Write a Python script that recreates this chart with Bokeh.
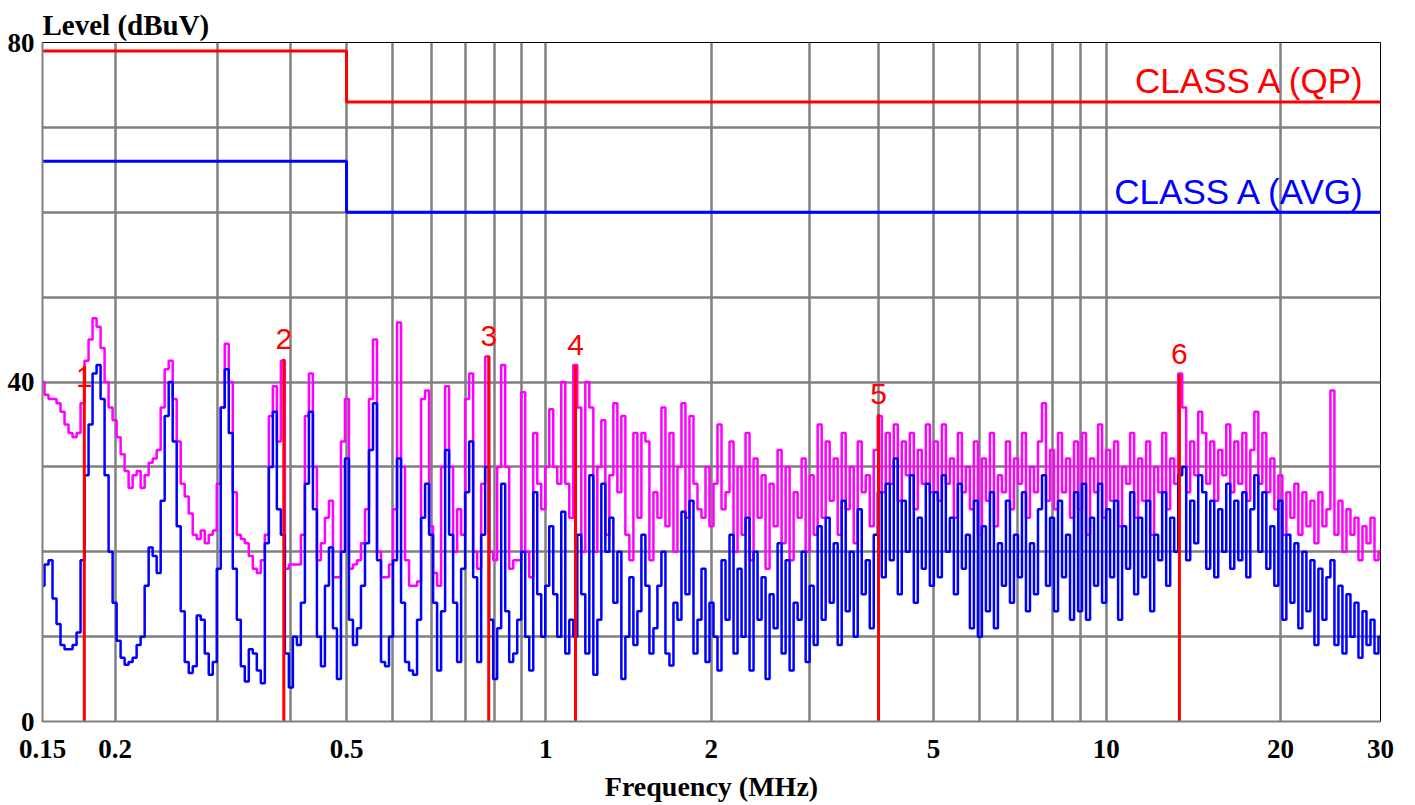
import numpy as np
from bokeh.plotting import figure
from bokeh.models import ColumnDataSource, FixedTicker, Range1d
from bokeh.core.properties import value
from bokeh.embed import file_html
from bokeh.resources import INLINE

# ---------------- data ----------------
F_START_MHZ, F_STOP_MHZ = 0.15, 30.0   # log sweep of the receiver

# peak / QP trace (magenta), dBuV, one value per sweep point
PEAK_1 = [40, 38.5, 38, 38, 37.5, 36.5, 35, 34, 33.5, 34,
          37.5, 42.5, 45, 47.5, 46.5, 44, 40, 37, 35.5, 33.5,
          31.5, 29.5, 27.5, 29, 29.5, 27.5, 29, 30.5, 31, 32,
          37, 41.5, 42.5, 38, 33, 28, 26.5, 24.5, 22, 21.5,
          22.5, 21, 22, 22.5, 28, 37, 44.5, 40, 27, 22,
          21.5, 21, 19.5, 18, 17.5, 19, 22, 36, 39.5, 33]
PEAK_2 = [42.5, 18, 18.5, 18.5, 18.5, 22, 36, 41, 30, 19,
          21, 24, 26, 17, 17, 33, 38, 18, 18.5, 19,
          21, 25, 38, 45, 20, 17, 17, 18.5, 25, 47,
          30, 19, 16, 16, 16.5, 38, 39, 23, 17.5, 16,
          30, 39.5, 30, 20, 25, 22, 38, 41, 20, 18,
          28, 43, 20, 19, 30, 42, 30, 18, 19, 19]
PEAK_3 = [38.8, 20, 17, 34, 28, 25, 30, 36.8, 30, 28,
          40, 28, 24, 42, 37, 20, 40, 37, 20, 30,
          35.5, 22, 29, 37.5, 27, 36, 22, 19, 34, 24,
          34, 33, 19, 27, 24, 37, 23, 34, 20, 30,
          37.5, 24, 36, 28, 25, 24, 30, 23, 28, 35,
          25, 27]
PEAK_4 = [33, 20, 30, 22, 34, 19, 31, 24, 29, 18, 28, 23, 32, 21, 30, 19, 27, 24, 31, 20, 29, 22, 35,
          24, 33, 26, 31, 22, 34, 25, 30, 21, 33, 27, 29, 23, 32, 36,
          27, 34, 28, 35, 26, 33, 29, 34, 25, 32, 28, 35, 27,
          33, 26, 35, 28, 31, 24, 34, 27, 30, 25, 33, 22, 31, 26, 34, 23, 29, 27, 33, 25,
          31, 28, 34, 24, 30, 27, 33, 37.5, 26, 32, 25, 34, 27, 31, 24]
PEAK_5 = [33, 25, 34, 22, 31, 27, 35, 24, 32, 26,
          33, 23, 30, 28, 34, 24, 31, 26, 33, 22,
          30, 27, 34, 25, 31, 28, 41, 37, 27, 33,
          29, 36.5, 34, 28, 33, 26, 32, 29, 35, 27,
          33, 28, 34, 26, 32, 36.5, 28, 34, 27, 31,
          25, 29, 22, 27, 24, 28, 22, 27, 23, 26,
          21, 27, 23, 25, 39, 22, 26, 20, 25, 22,
          24, 19, 23, 21, 24, 19, 20]

# average trace (blue), dBuV
AVG_1 = [16, 18.5, 19, 14.5, 11.5, 9, 8.5, 8.5, 9, 10.5,
         19, 29, 35, 41, 42, 38, 29, 20, 14, 9.5,
         7.5, 6.7, 7, 7.5, 9, 10, 16, 20.5, 19.5, 17.5,
         26, 36, 40, 33, 23, 13, 7, 5.7, 6.5, 12.5,
         12, 8, 5.5, 7, 18, 37, 41.5, 34, 18, 12,
         6.5, 4.7, 8.5, 8, 6, 4.5, 21, 30, 36.5, 25]
AVG_2 = [22, 8, 4, 10, 9, 14, 28, 36.5, 25, 10,
         6.5, 16, 20.5, 11, 5, 20, 31, 12, 9, 11,
         16, 21, 32, 37.5, 19, 7, 6.5, 10, 19, 31,
         14, 7, 6, 5.5, 12, 24, 28, 22, 14, 6,
         13, 32, 22, 14, 7, 18, 27, 33, 17, 7,
         22, 30, 12, 5, 11, 28, 13, 7, 8, 12]
AVG_3 = [20, 10, 6, 27, 15, 10, 16, 23, 15, 10,
         24.7, 8, 12, 10, 22, 15, 8, 29, 5.5, 12,
         28, 20, 24, 14, 20, 5, 10, 17, 9, 13,
         22, 16, 8, 11, 16, 20, 8, 6.6, 14, 12,
         24.7, 15, 26, 8, 12, 18, 7, 14, 10, 6,
         19, 12]
AVG_4 = [22, 8, 18, 10, 24, 6, 20, 12, 17, 5, 15, 11, 21, 8, 19, 6, 14, 12, 20, 7, 16, 9, 23,
         12, 24, 14, 21, 9, 26, 13, 20, 10, 25, 15, 19, 11, 22, 27,
         17, 28, 19, 31, 15, 26, 20, 29, 14, 24, 18, 28, 16,
         27, 17, 29, 20, 24, 15, 28, 18, 22, 11, 26, 10, 23, 13, 27, 11, 21, 16, 26, 14,
         22, 17, 27, 13, 21, 15, 25, 29, 16, 24, 13, 26, 17, 22, 12]
AVG_5 = [27, 13, 28, 12, 24, 16, 28, 14, 25, 17,
         26, 12, 23, 18, 27, 15, 24, 17, 26, 13,
         22, 19, 27, 16, 24, 20, 29, 30, 19, 26,
         21, 29, 27, 18, 26, 17, 25, 20, 28, 18,
         26, 19, 27, 17, 25, 29, 20, 27, 18, 23,
         16, 26, 12, 22, 14, 21, 11, 20, 13, 19,
         9, 18, 12, 17, 19, 9, 16, 8, 15, 10,
         14, 7.5, 13, 9, 12, 8, 10]

PEAK_DBUV = PEAK_1 + PEAK_2 + PEAK_3 + PEAK_4 + PEAK_5
AVG_DBUV = AVG_1 + AVG_2 + AVG_3 + AVG_4 + AVG_5

# CISPR class A limits
LIMIT_FREQ_MHZ = [0.15, 0.5, 0.5, 30.0]
QP_LIMIT_DBUV = [79, 79, 73, 73]
AV_LIMIT_DBUV = [66, 66, 60, 60]
LIMIT_NAMES = ["CLASS A (QP)", "CLASS A (AVG)"]

# markers
MARKER_NO = ["1", "2", "3", "4", "5", "6"]
MARKER_FREQ_MHZ = [0.177, 0.390, 0.878, 1.238, 4.110, 13.530]
MARKER_DBUV = [41.9, 42.7, 43.1, 42.0, 36.2, 40.9]

# axes: the reference draws its 1-30 MHz grid slightly offset; positions as drawn
X_TICK_MHZ = [0.15, 0.2, 0.5, 1.1, 2.12, 5.11, 10.13, 20.2, 30.0]
X_TICK_LABELS = ["0.15", "0.2", "0.5", "1", "2", "5", "10", "20", "30"]
X_GRID_MHZ = [0.2, 0.3, 0.4, 0.5, 0.6, 0.7, 0.8, 0.9, 1.0, 1.1,
              2.12, 3.13, 4.11, 5.11, 6.12, 7.12, 8.17, 9.16, 10.13, 20.2]
Y_TICKS = [0, 40, 80]
Y_GRID = [0, 10, 20, 30, 40, 50, 60, 70, 80]

# ---------------- styles ----------------
MAGENTA, BLUE, RED, GRID = "#FF00FF", "#0000FF", "#FF0000", "#808080"
SERIF = "Liberation Serif"
SANS = "Liberation Sans"
MARKER_LABEL_DY = [11, -20, -20, -20, -20, -20]   # label centre vs. marker top, px

p = figure(width=1412, height=804, x_axis_type="log",
           x_range=Range1d(F_START_MHZ, F_STOP_MHZ), y_range=Range1d(0, 80),
           output_backend="svg", toolbar_location=None,
           min_border_left=42, min_border_right=32, min_border_top=42, min_border_bottom=82,
           background_fill_color="white", border_fill_color="white",
           outline_line_color="black", outline_line_width=1)

p.title.text = "Level (dBuV)"
p.title.text_font = SERIF
p.title.text_font_style = "bold"
p.title.text_font_size = "29px"
p.title.text_color = "black"
p.title.align = "left"
p.title.standoff = 4

p.xgrid.ticker = FixedTicker(ticks=X_GRID_MHZ)
p.ygrid.ticker = FixedTicker(ticks=Y_GRID)
p.grid.grid_line_color = GRID
p.grid.grid_line_width = 2.5
p.grid.grid_line_alpha = 1.0

p.xaxis.ticker = FixedTicker(ticks=X_TICK_MHZ)
p.xaxis.major_label_overrides = dict(zip(X_TICK_MHZ, X_TICK_LABELS))
p.yaxis.ticker = FixedTicker(ticks=Y_TICKS)
p.axis.major_tick_line_color = None
p.axis.minor_tick_line_color = None
p.axis.major_tick_out = 0
p.axis.major_tick_in = 0
p.axis.minor_tick_out = 0
p.axis.minor_tick_in = 0
p.axis.axis_line_color = GRID
p.axis.axis_line_width = 2
p.axis.major_label_text_font = SERIF
p.axis.major_label_text_font_style = "bold"
p.axis.major_label_text_font_size = "27px"
p.axis.major_label_text_color = "black"
p.xaxis.major_label_standoff = 18
p.yaxis.major_label_standoff = 8
p.xaxis.axis_label = "Frequency (MHz)"
p.xaxis.axis_label_text_font = SERIF
p.xaxis.axis_label_text_font_style = "bold"
p.xaxis.axis_label_text_font_size = "28px"
p.xaxis.axis_label_text_color = "black"
p.xaxis.axis_label_standoff = 10

freq = np.geomspace(F_START_MHZ, F_STOP_MHZ, len(PEAK_DBUV))
freq_av = np.geomspace(F_START_MHZ, F_STOP_MHZ, len(AVG_DBUV))
src_pk = ColumnDataSource(dict(f=freq, lvl=PEAK_DBUV))
src_av = ColumnDataSource(dict(f=freq_av, lvl=AVG_DBUV))

p.step("f", "lvl", source=src_pk, mode="center", line_color=MAGENTA, line_width=2.5)
p.step("f", "lvl", source=src_av, mode="center", line_color=BLUE, line_width=2.5)

p.line(LIMIT_FREQ_MHZ, QP_LIMIT_DBUV, line_color=RED, line_width=3)
p.line(LIMIT_FREQ_MHZ, AV_LIMIT_DBUV, line_color=BLUE, line_width=3)
p.text(x=[LIMIT_FREQ_MHZ[-1], LIMIT_FREQ_MHZ[-1]],
       y=[QP_LIMIT_DBUV[-1], AV_LIMIT_DBUV[-1]],
       text=LIMIT_NAMES, text_color=[RED, BLUE],
       text_align="right", text_baseline="middle",
       x_offset=-14, y_offset=-21,
       text_font=value(SANS), text_font_size="35px")

p.segment(x0=MARKER_FREQ_MHZ, y0=[0] * len(MARKER_FREQ_MHZ),
          x1=MARKER_FREQ_MHZ, y1=MARKER_DBUV, line_color=RED, line_width=3)
p.text(x=MARKER_FREQ_MHZ, y=MARKER_DBUV, text=MARKER_NO,
       y_offset=MARKER_LABEL_DY, text_color=RED,
       text_align="center", text_baseline="middle",
       text_font=value(SANS), text_font_size="30px")

open("out.html", "w").write(file_html(p, INLINE))
